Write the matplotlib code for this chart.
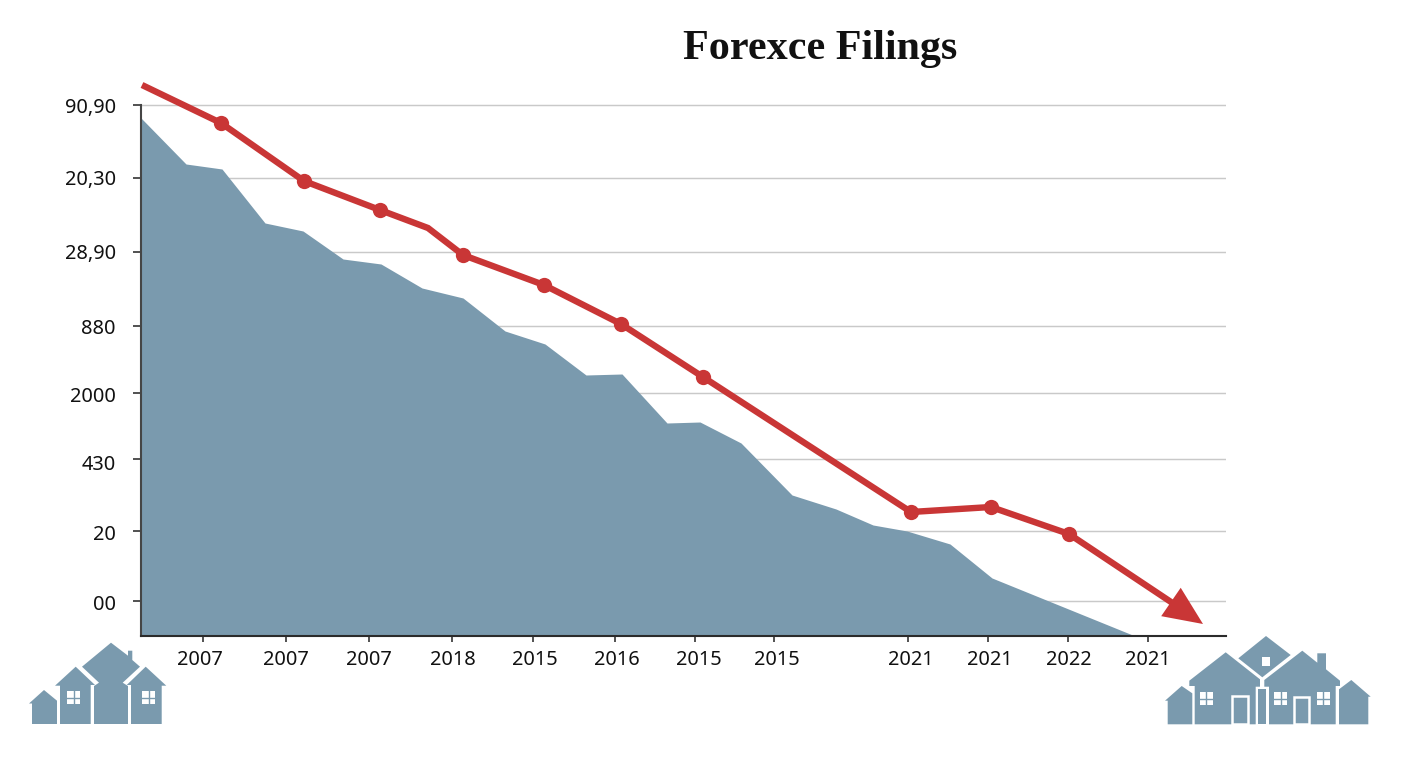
import matplotlib
matplotlib.use("Agg")
import matplotlib.pyplot as plt
from matplotlib.patches import Polygon, Rectangle

W, H = 1408, 768
# Axes frame in figure pixels
L, R, T, B = 141, 1226, 85, 636

TITLE = "Forexce Filings"
y_grid_pos = [531, 458, 384, 310, 243, 177, 105, 35]
y_label_pos = [530, 458, 384, 310, 241, 174, 103, 33]
y_tick_labels = ["90,90", "20,30", "28,90", "880", "2000", "430", "20", "00"]
x_tick_pos = [61.7, 145, 228, 311, 391.7, 474, 554, 632.7, 767, 847, 927, 1007]
x_label_pos = [59, 145, 228, 312, 393.5, 475.7, 557.8, 635.5, 769.5, 849, 928, 1007]
x_tick_labels = ["2007", "2007", "2007", "2018", "2015", "2016", "2015", "2015",
                 "2021", "2021", "2022", "2021"]

area_x = [0, 45, 81, 124, 162, 202, 240, 281, 322, 364, 404, 445, 481, 526, 559, 600,
          651, 695, 732, 766, 809, 851, 994]
area_y = [518, 472, 467, 413, 405, 377, 372, 348, 338, 305, 292, 261, 262, 213, 214, 193,
          141, 127, 111, 105, 92, 58, 0]

line_x = [1, 80, 163, 239, 287, 322, 403, 480, 562, 770, 850, 928, 1045]
line_y = [551, 513, 455, 426, 408, 381, 351, 312, 259, 124, 129, 102, 24]
marker_x = [80, 163, 239, 322, 403, 480, 562, 770, 850, 928]
marker_y = [513, 455, 426, 381, 351, 312, 259, 124, 129, 102]
arrow_start = (1030, 34)
arrow_end = (1062, 12)

BLUE = "#7A9AAE"
RED = "#C93636"

fig = plt.figure(figsize=(W / 100, H / 100), dpi=100, facecolor="white")
ax = fig.add_axes([L / W, 1 - B / H, (R - L) / W, (B - T) / H])
ax.set_xlim(0, R - L)
ax.set_ylim(0, B - T)
ax.patch.set_visible(False)
ax.xaxis.remove_overlapping_locs = False
ax.yaxis.remove_overlapping_locs = False

ax.set_yticks(y_label_pos, y_tick_labels, fontfamily="Noto Sans", fontsize=14.4, color="#111111")
ax.set_xticks(x_label_pos, x_tick_labels, fontfamily="Noto Sans", fontsize=14.4, color="#111111")
ax.set_yticks(y_grid_pos, minor=True)
ax.set_xticks(x_tick_pos, minor=True)
ax.tick_params(axis="y", which="major", length=0, pad=18)
ax.tick_params(axis="x", which="major", length=0, pad=10)
ax.tick_params(axis="y", which="minor", length=5.8, width=1.2, color="#333333")
ax.tick_params(axis="x", which="minor", length=4, width=1.2, color="#333333")
ax.grid(axis="y", which="minor", color="#C9C9C9", lw=1.05, zorder=0)
ax.set_axisbelow(True)
for s in ("top", "right"):
    ax.spines[s].set_visible(False)
ax.spines["left"].set_color("#454545")
ax.spines["left"].set_linewidth(1.5)
ax.spines["bottom"].set_color("#2B2B2B")
ax.spines["bottom"].set_linewidth(1.5)
ax.spines["left"].set_bounds(0, 531)

ax.fill_between(area_x, area_y, 0, color=BLUE, lw=0, zorder=2)
ax.plot(line_x, line_y, color=RED, lw=4.6, zorder=3, clip_on=False,
        solid_joinstyle="miter", solid_capstyle="butt")
ax.plot(marker_x, marker_y, "o", color=RED, ms=11, mew=0, zorder=4)
ax.annotate("", xy=arrow_end, xytext=arrow_start, zorder=5,
            arrowprops=dict(arrowstyle="-|>,head_length=1.4,head_width=0.62", fc=RED, ec="none",
                            lw=0, shrinkA=0, shrinkB=0, mutation_scale=20))

fig.text(820 / W, 1 - 49.5 / H, TITLE, ha="center", va="center", family="Liberation Serif",
         weight="bold", fontsize=30.3, color="#111111")

# Decorative house silhouettes, drawn in figure pixel coordinates
deco = fig.add_axes([0, 0, 1, 1], zorder=6)
deco.set_xlim(0, W)
deco.set_ylim(H, 0)
deco.axis("off")

left_houses = [
    [(44, 690), (29, 703.5), (32, 703.5), (32, 724), (57, 724), (57, 700.7)],
    [(75.7, 666.7), (55, 685.7), (60, 685.7), (60, 724), (90.7, 724), (90.7, 685), (95, 685)],
    [(111, 642.7), (82, 666.7), (99, 682.7), (94, 686), (94, 724), (128, 724), (128, 686),
     (122.7, 682.7), (140, 666.7), (132.3, 660), (132.3, 650.7), (128, 650.7), (128, 655.7)],
    [(145.7, 666.7), (126.7, 685), (131, 685), (131, 724), (161.7, 724), (161.7, 685.7), (166.3, 685.7)],
]
right_houses = [
    [(1181.7, 686), (1165, 700.7), (1167.7, 700.7), (1167.7, 724.3), (1192.3, 724.3), (1192.3, 693.3)],
    [(1225.7, 652.3), (1189.3, 680.7), (1189.3, 686), (1194.7, 686), (1194.7, 724.3), (1255.7, 724.3),
     (1255.7, 686.7), (1260, 686.7), (1260, 679.3)],
    [(1302.3, 650.7), (1264.3, 680), (1264.3, 686.7), (1269, 686.7), (1269, 724.3), (1335.7, 724.3),
     (1335.7, 686), (1340, 686), (1340, 680.7), (1326, 669.3), (1326, 653.3), (1317.3, 653.3), (1317.3, 662.7)],
    [(1266, 636), (1238.3, 658.3), (1262.3, 677.3), (1290.7, 655)],
    [(1258.3, 689), (1258.3, 724.3), (1265.7, 724.3), (1265.7, 689)],
    [(1351.3, 680), (1339, 689.3), (1339, 724.3), (1368.3, 724.3), (1368.3, 696.7), (1370.7, 696.7)],
]
for poly in left_houses + right_houses:
    deco.add_patch(Polygon(poly, closed=True, fc=BLUE, ec="none"))


def window(x0, y0, w=12.7, h=13.4):
    deco.add_patch(Rectangle((x0, y0), w, h, fc="white", ec="none"))
    deco.plot([x0 + w / 2] * 2, [y0, y0 + h], color=BLUE, lw=1.0)
    deco.plot([x0, x0 + w], [y0 + h / 2] * 2, color=BLUE, lw=1.0)


for wx, wy in [(67.3, 691), (142.3, 691), (1200, 692), (1274.3, 692), (1317, 692)]:
    window(wx, wy)
deco.add_patch(Rectangle((1261.7, 657.3), 8.6, 9, fc="white", ec="none"))
for dx, dy, dw in [(1231.7, 696, 16), (1294.3, 696.7, 14.7)]:
    deco.add_patch(Rectangle((dx, dy), dw, 724.3 - dy, fc=BLUE, ec="white", lw=1.8))

fig.savefig("out.png", dpi=100, facecolor="white")
